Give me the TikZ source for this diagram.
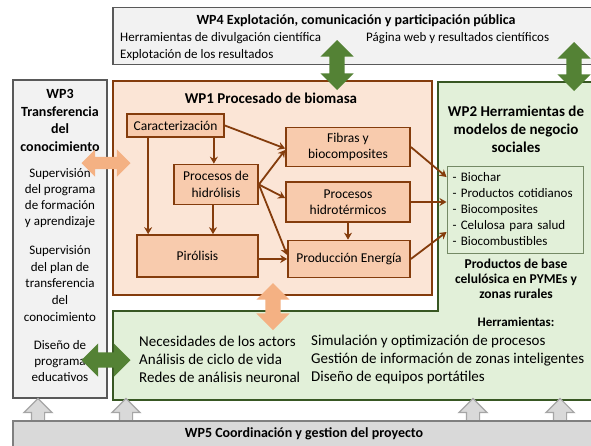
\documentclass[tikz,border=0pt]{standalone}
\usepackage{fontspec}
\setmainfont{Carlito}
\usetikzlibrary{arrows.meta,shapes.arrows,positioning}
\definecolor{wpgrey}{HTML}{F2F2F2}
\definecolor{wpline}{HTML}{595959}
\definecolor{barfill}{HTML}{D9D9D9}
\definecolor{barline}{HTML}{7F7F7F}
\definecolor{liftline}{HTML}{A6A6A6}
\definecolor{biolight}{HTML}{FBE5D6}
\definecolor{biomid}{HTML}{F8CBAD}
\definecolor{bioline}{HTML}{843C0C}
\definecolor{biopeach}{HTML}{F4B183}
\definecolor{bizlight}{HTML}{E2F0D9}
\definecolor{bizline}{HTML}{385723}
\definecolor{bizarrow}{HTML}{548235}
\tikzset{>={Stealth[width=8pt,length=7pt]}}
\tikzset{wp/.style={shape=rectangle, draw=wpline, fill=wpgrey, line width=1.8pt, inner sep=0pt}}
\tikzset{wpbar/.style={shape=rectangle, draw=barline, fill=barfill, line width=1.8pt, inner sep=0pt}}
\tikzset{bio/.style={shape=rectangle, draw=bioline, fill=biolight, line width=2pt, inner sep=0pt}}
\tikzset{bizarea/.style={draw=bizline, fill=bizlight, line width=1.8pt}}
\tikzset{proc/.style={shape=rectangle, draw=bioline, fill=biomid, line width=1.7pt, inner sep=0pt,
    align=center, font=\fontsize{13.5}{16.5}\selectfont}}
\tikzset{usebox/.style={shape=rectangle, draw=bizline!70, fill=bizlight, line width=1pt, inner xsep=5.5pt,
    text width=125pt, align=left, minimum height=87pt, font=\fontsize{13}{16}\selectfont}}
\tikzset{flow/.style={->, draw=bioline, line width=1.8pt}}
\tikzset{duo/.style={double arrow, draw=none, double arrow head extend=9pt, inner xsep=0pt, inner ysep=7.5pt,
    minimum height=#1}}
\tikzset{lift/.style={single arrow, draw=liftline, fill=barfill, line width=1.2pt, single arrow head extend=7.5pt,
    inner xsep=0pt, inner ysep=6pt, minimum height=23pt, rotate=90, anchor=tail}}
\tikzset{head/.style={font=\fontsize{14}{17.5}\selectfont\bfseries, align=center, inner sep=0pt}}
\tikzset{body/.style={font=\fontsize{13}{16}\selectfont, align=center, inner sep=0pt}}
\tikzset{big/.style={font=\fontsize{15}{18}\selectfont, align=left, inner sep=0pt, anchor=west}}

\begin{document}
\begin{tikzpicture}[x=1pt, y=-1pt]
    \useasboundingbox (0,0) rectangle (591,445);
    \fill[white] (0,0) rectangle (591,445);

    % work packages
    \node(wp4) [wp, minimum width=488pt, minimum height=57pt] at (357,36) {};
    \node(wp3) [wp, minimum width=94pt, minimum height=318pt] at (60,239) {};
    \path[bizarea] (113,311) -- (438,311) -- (438,82) -- (605,82) -- (605,400) -- (113,400) -- cycle;
    \node(wp1) [bio, minimum width=319pt, minimum height=214pt] at (272.5,188) {};

    \foreach \x/\n in {38/a,126/b,473/c,560/d}
        \node(up\n) [lift] at (\x,422) {};
    \node(wp5) [wpbar, minimum width=590pt, minimum height=40pt] at (308,441) {};

    % WP4
    \node(wp4title) [head] at (356,21) {WP4 Explotación, comunicación y participación pública};
    \node(wp4a) [body, anchor=west] at (120,38) {Herramientas de divulgación científica};
    \node(wp4b) [body, anchor=west] at (366,38) {Página web y resultados científicos};
    \node(wp4c) [body, anchor=west] at (120,55) {Explotación de los resultados};

    % WP3
    \node(wp3title) [head] at (60,120.5) {WP3\\Transferencia\\del\\conocimiento};
    \node(wp3a) [body] at (60,198.5) {Supervisión\\del programa\\de formación\\y aprendizaje};
    \node(wp3b) [body, font=\fontsize{13}{16.7}\selectfont] at (60,283.5) {Supervisión\\del plan de\\transferencia\\del\\conocimiento};
    \node(wp3c) [body] at (60,361.5) {Diseño de\\programa\\educativos};

    % WP1
    \node(wp1title) [head, font=\fontsize{15}{18}\selectfont\bfseries] at (271,98) {WP1 Procesado de biomasa};
    \node(car) [proc, minimum width=97pt, minimum height=23pt] at (175.5,125.5) {Caracterización};
    \node(hyd) [proc, minimum width=84pt, minimum height=40pt] at (216,184.5) {Procesos de\\hidrólisis};
    \node(pir) [proc, minimum width=121pt, minimum height=42pt] at (197.5,256) {Pirólisis};
    \node(fib) [proc, minimum width=124pt, minimum height=39pt] at (348,147) {Fibras y\\biocomposites};
    \node(hte) [proc, minimum width=124pt, minimum height=40pt] at (348,202) {Procesos\\hidrotérmicos};
    \node(ene) [proc, minimum width=122pt, minimum height=37pt] at (349,259) {Producción Energía};

    % WP2
    \node(wp2title) [head, font=\fontsize{15}{18}\selectfont\bfseries] at (516,129.5) {WP2 Herramientas de\\modelos de negocio\\sociales};
    \node(uses) [usebox] at (515,209.5) {- Biochar\\- Productos cotidianos\\- Biocomposites\\- Celulosa para salud\\- Biocombustibles};
    \node(goods) [head, font=\fontsize{13.5}{15}\selectfont\bfseries] at (516,279) {Productos de base\\celulósica en PYMEs y\\zonas rurales};
    \node(tools) [head, font=\fontsize{13}{16}\selectfont\bfseries] at (516,322) {Herramientas:};
    \node(toolsa) [big] at (139,359) {Necesidades de los actors\\Análisis de ciclo de vida\\Redes de análisis neuronal};
    \node(toolsb) [big] at (311,359) {Simulación y optimización de procesos\\Gestión de información de zonas inteligentes\\Diseño de equipos portátiles};

    % WP5
    \node(wp5title) [head] at (304,434) {WP5 Coordinación y gestion del proyecto};

    \draw [flow] ([xshift=22pt]car.south west) -- ([xshift=22pt]car.south west |- pir.north);
    \draw [flow] ([xshift=-11pt]car.south east) -- ([xshift=-11pt]car.south east |- hyd.north);
    \draw [flow] ([xshift=-3pt]hyd.south) -- ([xshift=-3pt]hyd.south |- pir.north);
    \draw [flow] (car.east) -- ([yshift=-1.5pt]fib.west);
    \draw [flow] (hyd.east) -- ([yshift=-3pt]fib.west);
    \draw [flow] (hyd.east) -- ([yshift=4pt]hte.west);
    \draw [flow] (hyd.east) -- ([yshift=4pt]ene.west);
    \draw [flow] (pir.east |- ene.west) -- (ene.west);
    \draw [flow] (hte.south) -- (hte.south |- ene.north);
    \draw [flow] (fib.east) -- ([yshift=32.5pt]uses.west);
    \draw [flow] (hte.east) -- (hte.east -| uses.west);
    \draw [flow] (ene.east) -- ([yshift=-22.5pt]uses.west);

    % links between packages
    \node(wp4wp1) [duo=50pt, fill=bizarrow, rotate=90] at (337,65) {};
    \node(wp4wp2) [duo=49pt, fill=bizarrow, rotate=90] at (574,66.5) {};
    \node(wp3wp1) [duo=49pt, fill=biopeach, double arrow head extend=7.5pt, inner ysep=6pt] at (106,163) {};
    \node(wp3wp2) [duo=49pt, fill=bizarrow] at (106,360) {};
    \node(wp1wp2) [duo=47pt, fill=biopeach, rotate=90] at (273,306.5) {};
\end{tikzpicture}
\end{document}
